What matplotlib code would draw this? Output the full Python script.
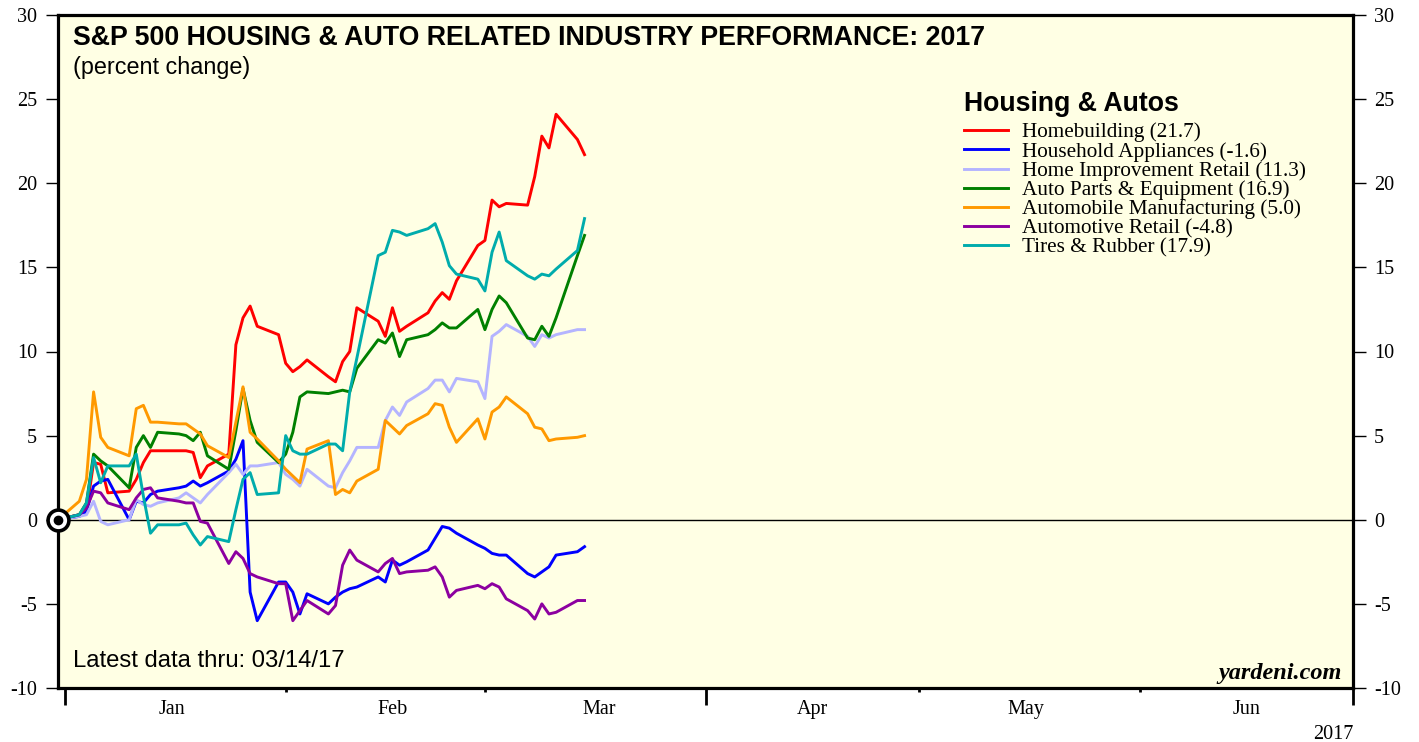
import matplotlib
matplotlib.use('Agg')

import matplotlib.pyplot as plt
import numpy as np
import pandas as pd

# weekday closes, base = last trading day of 2016
dates = pd.bdate_range('2016-12-30', '2017-03-14')

homebuilding = [0, 0.3, 0.5, 3.4, 3.3, 1.6, 1.7, 2.4, 3.4, 4.1, 4.1, 4.1, 4.1, 4.0, 2.5, 3.2,
                3.9, 10.4, 12.0, 12.7, 11.5, 11.0, 9.3, 8.8, 9.1, 9.5, 8.5, 8.2, 9.4, 10.0, 12.6,
                11.8, 10.9, 12.6, 11.2, 11.5, 12.3, 13.0, 13.5, 13.1, 14.2, 16.3, 16.6, 19.0,
                18.6, 18.8, 18.7, 20.4, 22.8, 22.1, 24.1, 22.6, 21.7]
appliances = [0, 0.2, 0.5, 2.0, 2.3, 2.4, 0.0, 1.1, 1.0, 1.5, 1.7, 1.9, 2.0, 2.3, 2.0, 2.2,
              2.9, 3.6, 4.7, -4.3, -6.0, -3.7, -3.7, -4.3, -5.6, -4.4, -5.0, -4.6, -4.3, -4.1,
              -4.0, -3.4, -3.7, -2.4, -2.7, -2.5, -1.8, -1.1, -0.4, -0.5, -0.8, -1.5, -1.7,
              -2.0, -2.1, -2.1, -3.2, -3.4, -3.1, -2.8, -2.1, -1.9, -1.6]
home_improvement = [0, 0.2, 0.3, 1.1, -0.1, -0.3, 0.0, 1.2, 0.9, 0.8, 1.0, 1.3, 1.6, 1.3, 1.0,
                    1.5, 2.8, 3.3, 2.7, 3.2, 3.2, 3.4, 2.7, 2.4, 2.0, 3.0, 2.0, 1.9, 2.8, 3.5,
                    4.3, 4.3, 5.9, 6.7, 6.2, 7.0, 7.8, 8.3, 8.3, 7.6, 8.4, 8.2, 7.2, 10.9, 11.2,
                    11.6, 10.9, 10.3, 11.0, 10.8, 11.0, 11.3, 11.3]
auto_parts = [0, 0.3, 1.0, 3.9, 3.5, 3.2, 1.9, 4.3, 5.0, 4.3, 5.2, 5.1, 5.0, 4.7, 5.2, 3.8,
              3.0, 5.3, 7.8, 5.9, 4.6, 3.4, 3.9, 5.2, 7.3, 7.6, 7.5, 7.6, 7.7, 7.6, 9.0, 10.7,
              10.5, 11.1, 9.7, 10.7, 11.0, 11.3, 11.7, 11.4, 11.4, 12.5, 11.3, 12.5, 13.3,
              12.9, 10.8, 10.7, 11.5, 10.9, 12.0, 15.7, 16.9]
auto_mfg = [0, 1.1, 2.4, 7.6, 4.9, 4.3, 3.8, 6.6, 6.8, 5.8, 5.8, 5.7, 5.7, 5.4, 5.1, 4.4,
            3.7, 5.8, 7.9, 5.2, 4.8, 3.5, 3.0, 2.6, 2.2, 4.2, 4.7, 1.5, 1.8, 1.6, 2.3, 3.0,
            5.9, 5.5, 5.1, 5.6, 6.3, 6.9, 6.8, 5.5, 4.6, 6.0, 4.8, 6.4, 6.7, 7.3, 6.3, 5.5,
            5.4, 4.7, 4.8, 4.9, 5.0]
auto_retail = [0, 0.3, 0.7, 1.7, 1.6, 1.0, 0.6, 1.3, 1.8, 1.9, 1.3, 1.1, 1.0, 1.0, -0.1, -0.2,
               -2.6, -1.9, -2.3, -3.2, -3.4, -3.8, -3.8, -6.0, -5.4, -4.8, -5.6, -5.1, -2.7,
               -1.8, -2.4, -3.1, -2.6, -2.3, -3.2, -3.1, -3.0, -2.8, -3.4, -4.6, -4.2, -3.9,
               -4.1, -3.8, -4.0, -4.7, -5.4, -5.9, -5.0, -5.6, -5.5, -4.8, -4.8]
tires = [0, 0.3, 1.0, 3.7, 2.2, 3.2, 3.2, 3.9, 1.4, -0.8, -0.3, -0.3, -0.2, -0.9, -1.5, -1.0,
         -1.3, 0.6, 2.4, 2.8, 1.5, 1.6, 5.0, 4.1, 3.9, 3.9, 4.5, 4.5, 4.1, 7.6, 9.6, 15.7,
         15.9, 17.2, 17.1, 16.9, 17.3, 17.6, 16.5, 15.1, 14.6, 14.3, 13.6, 15.9, 17.1, 15.4,
         14.5, 14.3, 14.6, 14.5, 14.9, 16.0, 17.9]

series = [homebuilding, appliances, home_improvement, auto_parts, auto_mfg, auto_retail, tires]
labels = ['Homebuilding (21.7)', 'Household Appliances (-1.6)', 'Home Improvement Retail (11.3)',
          'Auto Parts & Equipment (16.9)', 'Automobile Manufacturing (5.0)',
          'Automotive Retail (-4.8)', 'Tires & Rubber (17.9)']
colors = ['#ff0000', '#0000ff', '#b4b4ff', '#008000', '#ff9900', '#8c00a0', '#00acac']

months = ['Jan', 'Feb', 'Mar', 'Apr', 'May', 'Jun']
month_mid = pd.to_datetime(['2017-01-15', '2017-02-15', '2017-03-16',
                            '2017-04-15', '2017-05-15', '2017-06-15'])
quarter_ends = pd.to_datetime(['2016-12-31', '2017-03-31', '2017-06-30'])
month_ends = pd.to_datetime(['2017-01-31', '2017-02-28', '2017-04-30', '2017-05-31'])
yticks = [-10, -5, 0, 5, 10, 15, 20, 25, 30]

serif = ['Liberation Serif', 'DejaVu Serif']
sans = ['Liberation Sans', 'DejaVu Sans']

fig = plt.figure(figsize=(14.19, 7.42), dpi=100)
ax = fig.add_axes([58 / 1419, 54 / 742, 1295 / 1419, 673 / 742])
ax.set_facecolor('#ffffe4')

ax.axhline(0, color='black', lw=1, zorder=1)
for vals, col, lab in zip(series, colors, labels):
    ax.plot(dates, vals, color=col, lw=2.1, label=lab, zorder=3)

# base-date marker
ax.plot([dates[0]], [0], 'o', ms=15, mfc='white', mec='black', mew=2.6, clip_on=False, zorder=10)
ax.plot([dates[0]], [0], 'o', ms=6, color='black', clip_on=False, zorder=11)

ax.set_xlim(pd.Timestamp('2016-12-30'), pd.Timestamp('2017-06-30'))
ax.set_ylim(-10, 30)

for s in ax.spines.values():
    s.set_linewidth(2.3)

ax.set_xticks(quarter_ends)
ax.set_xticks(month_ends, minor=True)
ax.tick_params(axis='x', which='major', length=12, width=2, direction='out', labelbottom=False)
ax.tick_params(axis='x', which='minor', length=3, width=2, direction='out', labelbottom=False)
for m, d in zip(months, month_mid):
    ax.annotate(m, xy=(d, 0), xycoords=('data', 'axes fraction'), xytext=(0, -15.5),
                textcoords='offset points', ha='center', va='center', fontsize=14.5, family=serif)
ax.annotate('2017', xy=(1, 0), xycoords='axes fraction', xytext=(0, -33.5),
            textcoords='offset points', ha='right', va='center', fontsize=14.5, family=serif)

ax.set_yticks(yticks)
ax.set_yticklabels([str(v) for v in yticks])
ax.tick_params(axis='y', left=True, right=True, labelleft=True, labelright=True,
               direction='out', length=9, width=1, pad=6, labelsize=14.5)
for t in ax.get_yticklabels():
    t.set_family(serif)

ax.text(0.0116, 0.966, 'S&P 500 HOUSING & AUTO RELATED INDUSTRY PERFORMANCE: 2017',
        transform=ax.transAxes, ha='left', va='center', fontsize=19.3, fontweight='bold', family=sans)
ax.text(0.0116, 0.922, '(percent change)', transform=ax.transAxes, ha='left', va='center',
        fontsize=16.8, family=sans)
ax.text(0.0116, 0.040, 'Latest data thru: 03/14/17', transform=ax.transAxes, ha='left',
        va='center', fontsize=17.2, family=sans)
ax.text(0.9915, 0.022, 'yardeni.com', transform=ax.transAxes, ha='right', va='center',
        fontsize=17.5, fontweight='bold', fontstyle='italic', family=serif)

leg = ax.legend(loc='upper left', bbox_to_anchor=(0.6995, 0.887), frameon=False,
                title='Housing & Autos', alignment='left',
                title_fontproperties={'family': sans, 'weight': 'bold', 'size': 19.2},
                prop={'family': serif, 'size': 15.3}, handlelength=2.1, handletextpad=0.65,
                labelspacing=-0.03, borderpad=0, borderaxespad=0)
leg._legend_box.sep = 4

fig.savefig('out.png', dpi=100)
